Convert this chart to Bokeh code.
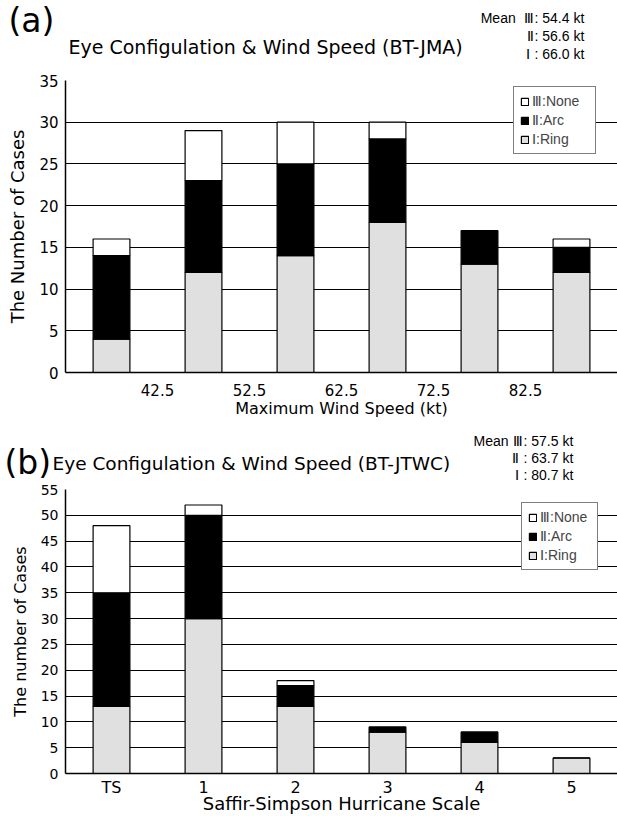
from bokeh.plotting import figure
from bokeh.models import (ColumnDataSource, FixedTicker, Legend, LegendItem, FactorRange)
from bokeh.core.properties import value
from bokeh.layouts import column
from bokeh.embed import file_html
from bokeh.resources import INLINE

# ---- data (a) ----
wind_bins = [37.5, 47.5, 57.5, 67.5, 77.5, 87.5]
wind_ticks = [42.5, 52.5, 62.5, 72.5, 82.5]
ring_a = [4, 12, 14, 18, 13, 12]
arc_a = [10, 11, 11, 10, 4, 3]
none_a = [2, 6, 5, 2, 0, 1]
mean_names_a = ["Mean\u00a0\u00a0Ⅲ", "Ⅱ", "Ⅰ\u00a0"]
mean_vals_a = [54.4, 56.6, 66.0]

# ---- data (b) ----
ss_cats = ["TS", "1", "2", "3", "4", "5"]
ring_b = [13, 30, 13, 8, 6, 3]
arc_b = [22, 20, 4, 1, 2, 0]
none_b = [13, 2, 1, 0, 0, 0]
mean_names_b = ["Mean Ⅲ", "Ⅱ\u00a0", "Ⅰ\u00a0"]
mean_vals_b = [57.5, 63.7, 80.7]

legend_names = ["Ⅲ:None", "Ⅱ:Arc", "Ⅰ:Ring"]
colors = ["#e0e0e0", "#000000", "#ffffff"]  # ring, arc, none
FONT = "DejaVu Sans"
LFONT = "Liberation Sans"
W = 617


def header(h, tag, title, names, vals, tag_x, tag_y, title_x, title_y, title_fs,
           colon_x, mean_ys):
    p = figure(width=W, height=h, x_range=(0, W), y_range=(h, 0),
               x_axis_location=None, y_axis_location=None,
               output_backend="svg", toolbar_location=None, min_border=0)
    p.frame_align = False
    p.grid.visible = False
    p.outline_line_color = None
    p.text(x=[tag_x], y=[tag_y], text=[tag], text_font=value(FONT), text_font_size="33px",
           text_baseline="middle", text_align="left", text_color="black")
    p.text(x=[title_x], y=[title_y], text=[title], text_font=value(FONT),
           text_font_size=f"{title_fs}px", text_baseline="middle", text_align="left",
           text_color="black")
    p.text(x=[colon_x - 1] * len(names), y=mean_ys, text=names, text_font=value(LFONT),
           text_font_size="14px", text_baseline="middle", text_align="right",
           text_color="black")
    p.text(x=[colon_x] * len(vals), y=mean_ys, text=[f":\u00a0{v:.1f} kt" for v in vals],
           text_font=value(LFONT), text_font_size="14px", text_baseline="middle",
           text_align="left", text_color="black")
    return p


def style(p, ylabel, xlabel, yfs, tfs, xtfs, xlfs, xstand, xlstand):
    p.outline_line_color = None
    p.xgrid.grid_line_color = None
    p.ygrid.grid_line_color = "black"
    p.ygrid.grid_line_width = 1
    for ax in (p.xaxis[0], p.yaxis[0]):
        ax.major_tick_line_color = None
        ax.minor_tick_line_color = None
        ax.major_tick_out = 0
        ax.major_tick_in = 0
        ax.minor_tick_out = 0
        ax.axis_line_color = "black"
        ax.axis_line_width = 1.5
        ax.major_label_text_font = FONT
        ax.axis_label_text_font = FONT
        ax.axis_label_text_font_style = "normal"
        ax.major_label_text_color = "black"
        ax.axis_label_text_color = "black"
    p.yaxis.axis_label = ylabel
    p.xaxis.axis_label = xlabel
    p.yaxis.major_label_text_font_size = f"{tfs}px"
    p.xaxis.major_label_text_font_size = f"{xtfs}px"
    p.yaxis.axis_label_text_font_size = f"{yfs}px"
    p.xaxis.axis_label_text_font_size = f"{xlfs}px"
    p.yaxis.major_label_standoff = 7
    p.xaxis.major_label_standoff = xstand
    p.xaxis.axis_label_standoff = xlstand
    p.yaxis.axis_label_standoff = 8


def add_legend(p, rs, loc, lw):
    items = [LegendItem(label=legend_names[0], renderers=[rs[2]]),
             LegendItem(label=legend_names[1], renderers=[rs[1]]),
             LegendItem(label=legend_names[2], renderers=[rs[0]])]
    lg = Legend(items=items, location=loc)
    lg.border_line_color = "black"
    lg.border_line_width = 1
    lg.label_text_font = LFONT
    lg.label_text_font_size = "14px"
    lg.glyph_width = 9
    lg.glyph_height = 9
    lg.label_standoff = 3
    lg.label_width = lw
    lg.spacing = 3
    lg.padding = 6
    lg.margin = 0
    lg.label_height = 14
    lg.background_fill_color = "white"
    lg.background_fill_alpha = 1
    p.add_layout(lg, "center")


# ---- (a) ----
ha = header(71, "(a)", "Eye Configulation & Wind Speed (BT-JMA)", mean_names_a, mean_vals_a,
            8, 20, 68, 46, 19, 534, [17, 35, 53])

src_a = ColumnDataSource(dict(x=wind_bins, ring=ring_a, arc=arc_a, none=none_a))
pa = figure(width=W, height=349, x_range=(32.5, 92.5), y_range=(0, 35),
            output_backend="svg", toolbar_location=None,
            min_border_left=65, min_border_right=0, min_border_top=9, min_border_bottom=47)
rs_a = pa.vbar_stack(["ring", "arc", "none"], x="x", width=4.0, color=colors,
                     line_color="black", line_width=1.2, source=src_a)
pa.xaxis.ticker = FixedTicker(ticks=wind_ticks)
pa.yaxis.ticker = FixedTicker(ticks=list(range(0, 36, 5)))
style(pa, "The Number of Cases", "Maximum Wind Speed (kt)", 18, 15, 15, 16, 11, 0)
add_legend(pa, rs_a, (448, 218), 57)

# ---- (b) ----
hb = header(61, "(b)", "Eye Configulation & Wind Speed (BT-JTWC)", mean_names_b, mean_vals_b,
            4, 42, 52, 43, 18.5, 523, [20, 37, 54])

src_b = ColumnDataSource(dict(x=ss_cats, ring=ring_b, arc=arc_b, none=none_b))
pb = figure(width=W, height=335, x_range=FactorRange(*ss_cats), y_range=(0, 55),
            output_backend="svg", toolbar_location=None,
            min_border_left=63, min_border_right=0, min_border_top=8, min_border_bottom=43)
rs_b = pb.vbar_stack(["ring", "arc", "none"], x="x", width=0.4, color=colors,
                     line_color="black", line_width=1.2, source=src_b)
pb.yaxis.ticker = FixedTicker(ticks=list(range(0, 56, 5)))
style(pb, "The number of Cases", "Saffir-Simpson Hurricane Scale", 16, 14, 16, 18, 4, -7)
add_legend(pb, rs_b, (456, 203), 51)

lay = column(ha, pa, hb, pb, spacing=0)
open("out.html", "w").write(file_html(lay, INLINE))
